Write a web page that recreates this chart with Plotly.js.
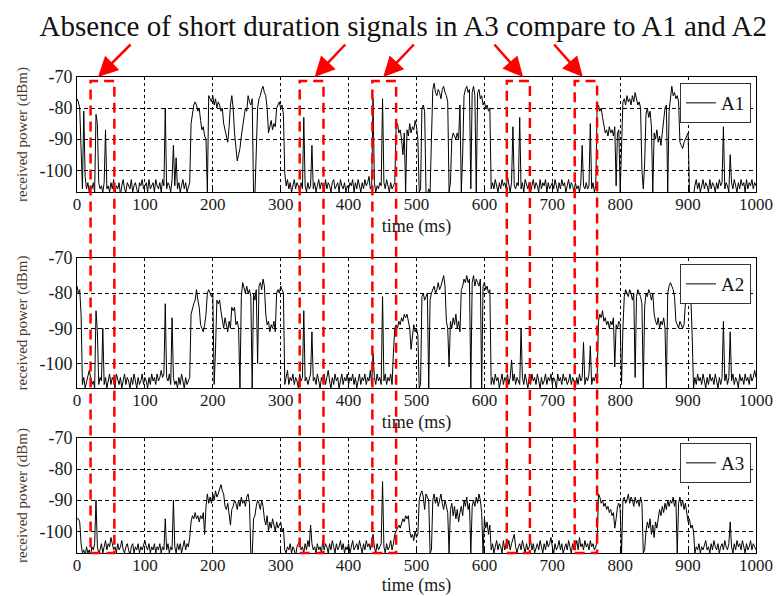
<!DOCTYPE html>
<html><head><meta charset="utf-8">
<script src="https://cdn.plot.ly/plotly-3.0.1.min.js"></script>
<style>html,body{margin:0;padding:0;background:#fff}#chart{width:777px;height:596px}</style>
</head><body><div id="chart"></div>
<script>
// ---- data ----
const seriesNames = ['A1', 'A2', 'A3'];
const timeStart = 0;   // ms
const timeStep = 2;    // ms between samples
const powerA1 = [
-77,-78,-80,-95,-106,-81,-102,-106,-104,-107,-105,-106,-104,-107,-82,-85,-104,-106,-105,-107,-104,-87,-106,-105,-107,
-104,-106,-103,-107,-105,-106,-104,-108,-105,-103,-106,-107,-104,-105,-106,-103,-107,-105,-104,-106,-108,-104,-105,-103,-106,
-105,-104,-107,-103,-106,-105,-104,-107,-103,-105,-106,-104,-107,-103,-105,-80,-106,-104,-105,-107,-103,-92,-105,-96,-106,
-104,-107,-105,-103,-106,-104,-107,-105,-104,-85,-82,-79,-78,-79,-81,-80,-84,-87,-86,-89,-90,-107,-76,-77,-78,
-76,-79,-77,-80,-78,-79,-81,-80,-85,-87,-89,-91,-86,-79,-76,-80,-88,-94,-97,-95,-93,-89,-86,-84,-80,
-81,-76,-78,-79,-77,-107,-108,-90,-80,-77,-76,-74,-73,-75,-76,-80,-88,-86,-84,-87,-85,-86,-80,-79,-78,
-80,-79,-82,-101,-105,-103,-106,-104,-107,-105,-103,-106,-104,-105,-107,-104,-106,-83,-105,-107,-104,-106,-105,-92,-106,
-104,-107,-105,-103,-106,-104,-105,-107,-103,-106,-104,-105,-107,-104,-103,-106,-105,-104,-107,-103,-105,-106,-104,-107,-105,
-106,-104,-105,-103,-107,-104,-106,-103,-105,-107,-104,-106,-103,-105,-104,-102,-106,-105,-77,-104,-107,-105,-106,-104,-105,
-77,-104,-106,-103,-105,-107,-104,-106,-105,-104,-86,-85,-88,-87,-90,-95,-88,-107,-87,-89,-85,-88,-86,-87,-84,
-86,-90,-107,-106,-80,-79,-81,-107,-108,-106,-107,-90,-74,-72,-75,-76,-74,-75,-77,-74,-73,-75,-76,-78,-107,
-104,-90,-88,-89,-90,-88,-90,-79,-107,-95,-76,-74,-73,-75,-74,-106,-75,-73,-76,-107,-75,-74,-77,-76,-79,
-78,-80,-79,-81,-80,-106,-104,-106,-103,-105,-107,-104,-106,-103,-105,-104,-106,-102,-105,-107,-104,-86,-105,-106,-104,
-105,-83,-106,-104,-107,-103,-105,-106,-104,-107,-105,-103,-106,-104,-105,-107,-103,-106,-104,-105,-103,-107,-104,-106,-105,
-104,-106,-103,-105,-107,-104,-106,-103,-105,-104,-107,-105,-103,-106,-104,-105,-107,-104,-106,-105,-107,-104,-92,-105,-106,
-104,-106,-105,-85,-106,-104,-107,-105,-80,-79,-81,-80,-83,-86,-88,-87,-89,-86,-88,-87,-89,-86,-105,-88,-87,
-107,-90,-78,-77,-79,-76,-78,-77,-79,-76,-78,-75,-77,-79,-78,-80,-100,-106,-98,-82,-80,-83,-81,-86,-107,
-88,-90,-87,-91,-89,-92,-88,-86,-80,-79,-107,-81,-77,-73,-76,-75,-77,-76,-78,-91,-92,-93,-91,-90,-89,
-88,-107,-108,-107,-108,-105,-103,-106,-104,-107,-105,-103,-106,-104,-105,-107,-103,-106,-104,-105,-107,-104,-106,-103,-105,
-104,-86,-106,-104,-105,-107,-95,-104,-106,-103,-105,-107,-104,-106,-103,-105,-104,-107,-103,-106,-104,-105,-103,-106,-104,
-105];
const powerA2 = [
-78,-80,-79,-86,-106,-104,-107,-105,-103,-102,-104,-106,-105,-107,-85,-91,-106,-104,-105,-90,-106,-104,-107,-105,-103,
-106,-104,-105,-107,-103,-105,-106,-104,-107,-105,-103,-106,-104,-105,-107,-104,-106,-103,-105,-107,-104,-106,-105,-103,-106,
-104,-105,-107,-104,-106,-103,-105,-104,-106,-103,-105,-104,-102,-104,-103,-83,-104,-105,-103,-106,-87,-104,-106,-105,-107,
-104,-106,-103,-105,-107,-104,-106,-105,-104,-86,-84,-83,-82,-79,-82,-84,-89,-90,-91,-89,-86,-80,-79,-80,-81,
-80,-106,-96,-82,-83,-82,-85,-88,-90,-87,-89,-91,-88,-90,-84,-85,-84,-89,-88,-90,-107,-81,-77,-79,-80,
-78,-80,-79,-81,-107,-80,-82,-79,-100,-78,-77,-79,-76,-78,-86,-89,-88,-91,-89,-90,-88,-91,-80,-79,-80,
-78,-79,-80,-106,-104,-102,-106,-104,-105,-103,-106,-104,-105,-107,-103,-105,-104,-85,-105,-104,-106,-104,-103,-91,-105,
-104,-106,-103,-105,-107,-104,-105,-103,-106,-104,-102,-105,-107,-104,-106,-103,-105,-104,-107,-105,-103,-106,-104,-105,-103,
-106,-104,-105,-103,-106,-104,-107,-105,-103,-106,-104,-105,-103,-106,-104,-105,-102,-106,-97,-104,-106,-103,-105,-104,-106,
-81,-105,-103,-106,-104,-105,-103,-106,-97,-90,-89,-90,-88,-89,-87,-88,-86,-87,-86,-88,-90,-96,-93,-89,-91,
-90,-92,-107,-106,-81,-80,-82,-81,-80,-107,-82,-80,-79,-78,-80,-79,-77,-79,-78,-76,-75,-78,-88,-90,-101,
-88,-90,-87,-89,-86,-90,-88,-91,-79,-78,-76,-77,-75,-77,-76,-107,-77,-75,-78,-76,-77,-78,-76,-107,-78,
-77,-79,-78,-80,-79,-106,-104,-106,-103,-105,-104,-107,-105,-103,-106,-104,-105,-103,-106,-104,-99,-105,-103,-106,-104,
-105,-106,-90,-104,-106,-103,-105,-107,-104,-106,-103,-105,-104,-106,-103,-105,-107,-104,-106,-105,-103,-106,-104,-105,-103,
-106,-104,-105,-107,-103,-105,-104,-106,-103,-105,-104,-106,-105,-103,-106,-104,-105,-107,-104,-106,-103,-105,-104,-94,-106,
-104,-105,-103,-95,-106,-104,-105,-103,-104,-88,-86,-87,-85,-88,-87,-89,-88,-90,-88,-89,-87,-101,-89,-90,-88,
-89,-106,-90,-81,-79,-80,-81,-79,-80,-82,-80,-104,-81,-79,-80,-81,-83,-107,-84,-80,-81,-79,-80,-82,-80,
-86,-88,-89,-87,-90,-88,-89,-87,-90,-107,-80,-78,-77,-78,-79,-81,-88,-89,-90,-88,-89,-90,-89,-83,-81,
-82,-80,-81,-92,-107,-104,-106,-103,-105,-104,-106,-103,-105,-107,-104,-106,-103,-105,-104,-106,-103,-105,-107,-104,-106,
-104,-88,-105,-103,-106,-104,-91,-105,-103,-106,-104,-105,-107,-103,-105,-104,-106,-103,-105,-104,-106,-103,-105,-104,-102,
-104];
const powerA3 = [
-96,-96,-97,-104,-107,-106,-108,-105,-107,-106,-108,-105,-106,-104,-90,-105,-107,-106,-104,-107,-105,-103,-106,-104,-105,
-102,-104,-106,-105,-107,-104,-106,-105,-103,-106,-107,-105,-104,-106,-108,-105,-104,-107,-105,-106,-104,-107,-105,-106,-104,
-103,-105,-106,-104,-107,-105,-106,-104,-107,-105,-106,-104,-107,-105,-106,-96,-106,-104,-107,-105,-106,-90,-105,-107,-104,
-106,-104,-107,-105,-103,-106,-104,-105,-102,-97,-95,-96,-94,-96,-95,-97,-95,-96,-94,-101,-92,-88,-91,-89,-91,
-88,-90,-87,-89,-88,-86,-85,-87,-88,-92,-93,-91,-94,-98,-93,-92,-90,-91,-93,-90,-92,-89,-91,-90,-92,
-89,-88,-91,-107,-108,-96,-95,-92,-90,-91,-93,-90,-92,-96,-98,-95,-100,-97,-99,-96,-98,-100,-97,-99,-98,
-97,-100,-99,-106,-107,-105,-106,-104,-107,-105,-106,-108,-105,-104,-103,-106,-105,-107,-104,-106,-103,-105,-98,-104,-106,
-105,-107,-104,-106,-105,-107,-103,-106,-104,-105,-107,-104,-106,-103,-105,-107,-104,-106,-105,-103,-106,-104,-107,-105,-106,
-104,-107,-105,-103,-106,-105,-104,-106,-103,-105,-107,-104,-106,-103,-105,-104,-106,-103,-101,-105,-107,-104,-106,-105,-104,
-84,-105,-107,-104,-106,-105,-103,-106,-104,-101,-100,-99,-98,-99,-97,-96,-97,-95,-96,-95,-100,-102,-101,-103,-100,
-102,-101,-90,-88,-87,-89,-93,-88,-89,-90,-107,-106,-90,-88,-91,-89,-92,-90,-88,-91,-93,-90,-92,-94,-107,
-93,-91,-95,-92,-96,-93,-97,-94,-92,-95,-90,-92,-89,-93,-91,-107,-92,-90,-92,-89,-91,-88,-90,-94,-107,
-96,-99,-97,-101,-98,-106,-104,-107,-105,-103,-106,-104,-105,-107,-103,-106,-104,-105,-103,-106,-104,-102,-101,-105,-107,
-105,-104,-106,-103,-105,-107,-104,-106,-105,-103,-106,-104,-107,-105,-104,-106,-103,-105,-107,-104,-106,-103,-105,-104,-102,
-105,-107,-104,-106,-105,-103,-106,-104,-107,-105,-104,-106,-103,-105,-107,-104,-106,-105,-103,-106,-102,-105,-104,-106,-103,
-105,-104,-106,-103,-105,-104,-106,-105,-103,-88,-89,-91,-90,-92,-91,-93,-92,-94,-93,-95,-94,-99,-96,-92,-91,
-93,-107,-90,-89,-91,-90,-88,-91,-89,-90,-92,-89,-91,-90,-92,-89,-91,-107,-106,-100,-97,-99,-96,-101,-98,
-102,-97,-99,-96,-93,-95,-92,-94,-91,-93,-90,-92,-90,-91,-89,-92,-90,-107,-91,-89,-92,-90,-93,-91,-95,
-97,-96,-99,-98,-100,-107,-105,-106,-104,-107,-105,-106,-104,-103,-106,-105,-107,-104,-106,-103,-105,-106,-104,-107,-105,
-104,-106,-103,-105,-106,-104,-97,-105,-107,-104,-106,-103,-105,-104,-106,-103,-105,-107,-104,-106,-105,-103,-106,-104,-105,
-106];
const seriesValues = [powerA1, powerA2, powerA3];
const xTickVals = [0, 100, 200, 300, 400, 500, 600, 700, 800, 900, 1000];
const yTickVals = [-100, -90, -80, -70];
const yTickText = ['-100', '-90', '-80', '-70'];
// highlighted windows (ms) where short signals appear in A1/A2 but not A3
const windowStarts = [20, 328, 435, 633, 733];
const windowEnds = [55, 363, 470, 667, 766];
const titleText = 'Absence of short duration signals in A3 compare to A1 and A2';
const xTitleText = 'time (ms)';
const yTitleText = 'received power (dBm)';

// ---- layout ----
const SERIF = 'Liberation Serif, Times New Roman, serif';
const yDomains = [[0.7584, 1], [0.3466, 0.6197], [0, 0.2416]];
const legendTops = [0.9874, 0.6071, 0.2311];

const traces = seriesNames.map((name, i) => ({
  type: 'scatter', mode: 'lines', name: name,
  x0: timeStart, dx: timeStep, y: seriesValues[i],
  xaxis: i === 0 ? 'x' : 'x' + (i + 1),
  yaxis: i === 0 ? 'y' : 'y' + (i + 1),
  legend: i === 0 ? 'legend' : 'legend' + (i + 1),
  line: {color: '#000', width: 1},
  hoverinfo: 'skip'
}));

function xAxis(anchor) {
  return {
    anchor: anchor, domain: [0, 1], range: [0, 1000],
    tickvals: xTickVals, ticks: 'inside', ticklen: 4, tickcolor: '#000',
    showline: true, mirror: true, linecolor: '#000', linewidth: 1,
    showgrid: true, gridcolor: '#000', gridwidth: 1, griddash: '3px,3px',
    zeroline: false, ticklabelstandoff: -3,
    tickfont: {family: SERIF, size: 17, color: '#1a1a1a'},
    title: {text: xTitleText, font: {family: SERIF, size: 18, color: '#1a1a1a'}, standoff: 5}
  };
}
function yAxis(anchor, dom) {
  return {
    anchor: anchor, domain: dom, range: [-107, -70],
    tickvals: yTickVals, ticktext: yTickText, ticks: 'inside', ticklen: 4, tickcolor: '#000',
    showline: true, mirror: true, linecolor: '#000', linewidth: 1,
    showgrid: true, gridcolor: '#000', gridwidth: 1, griddash: '4px,3px',
    zeroline: false,
    tickfont: {family: SERIF, size: 18, color: '#1a1a1a'},
    title: {text: yTitleText, font: {family: SERIF, size: 15, color: '#4a3b2e'}, standoff: 8}
  };
}
function legendCfg(top) {
  return {
    x: 0.9926, xanchor: 'right', y: top, yanchor: 'top',
    bgcolor: '#fff', bordercolor: '#333', borderwidth: 1,
    font: {family: SERIF, size: 19, color: '#111'}, itemwidth: 30
  };
}

const shapes = windowStarts.map((s, i) => ({
  type: 'rect', xref: 'x', yref: 'paper',
  x0: s, x1: windowEnds[i], y0: 0, y1: 0.9916,
  line: {color: '#ff0000', width: 2.5, dash: '10px,6px'},
  fillcolor: 'rgba(0,0,0,0)', layer: 'above'
}));

// arrows: tip inside each window's top, tail above (pixel offsets)
const arrowTips = [31, 350, 451, 657, 745];
const arrowDx = [34, 32, 32, -30, -30];
const annotations = arrowTips.map((t, i) => ({
  x: t, xref: 'x', y: 1.0, yref: 'paper', text: '',
  showarrow: true, arrowhead: 2, arrowsize: 1.6, arrowwidth: 2.5, arrowcolor: '#ff0000',
  ax: arrowDx[i], ay: -34, standoff: 0
}));

const layout = {
  width: 777, height: 596,
  margin: {l: 77, r: 21, t: 77, b: 43},
  paper_bgcolor: '#fff', plot_bgcolor: '#fff',
  title: {text: titleText, font: {family: SERIF, size: 29, color: '#111'},
          x: 0.519, xref: 'container', xanchor: 'center', y: 0.956, yref: 'container', yanchor: 'middle'},
  showlegend: true,
  xaxis: xAxis('y'), xaxis2: xAxis('y2'), xaxis3: xAxis('y3'),
  yaxis: yAxis('x', yDomains[0]), yaxis2: yAxis('x2', yDomains[1]), yaxis3: yAxis('x3', yDomains[2]),
  legend: legendCfg(legendTops[0]), legend2: legendCfg(legendTops[1]), legend3: legendCfg(legendTops[2]),
  shapes: shapes, annotations: annotations
};

Plotly.newPlot('chart', traces, layout, {displayModeBar: false, staticPlot: true});
</script></body></html>
